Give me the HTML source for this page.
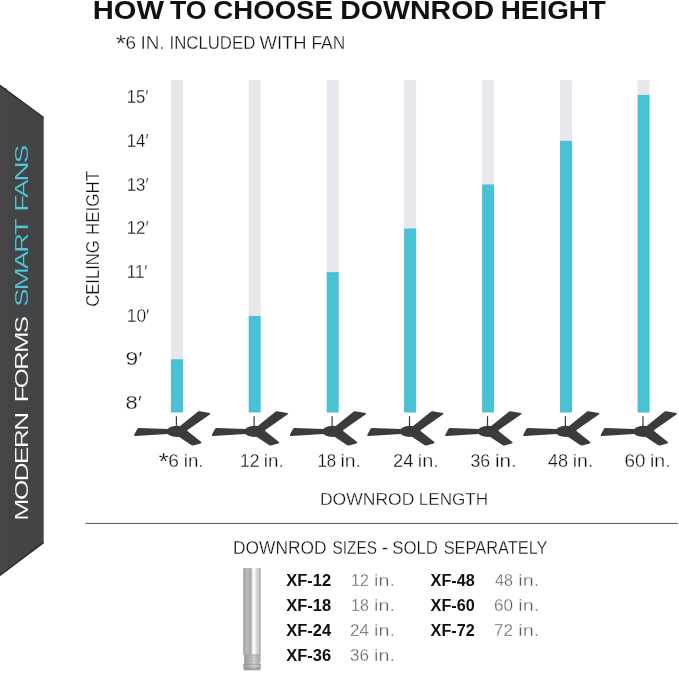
<!DOCTYPE html>
<html lang="en">
<head>
<meta charset="utf-8">
<title>How to choose downrod height</title>
<style>
html,body{margin:0;padding:0;background:#fff;}
body{width:679px;height:673px;overflow:hidden;}
svg{display:block;}
text{font-family:"Liberation Sans",sans-serif;fill:#101010;stroke:#fff;stroke-width:.28px;}
.b{font-weight:bold;fill:#111;stroke:none;}
.g{fill:#5e5e5e;}
</style>
</head>
<body>
<svg width="679" height="673" viewBox="0 0 679 673">
<defs>
<linearGradient id="rod" x1="0" y1="0" x2="1" y2="0">
<stop offset="0" stop-color="#c2c2c3"/>
<stop offset="0.04" stop-color="#adadaf"/>
<stop offset="0.12" stop-color="#ababad"/>
<stop offset="0.22" stop-color="#bcbcbe"/>
<stop offset="0.3" stop-color="#b8b8ba"/>
<stop offset="0.4" stop-color="#a6a6a8"/>
<stop offset="0.46" stop-color="#b4b4b6"/>
<stop offset="0.52" stop-color="#e6e6e8"/>
<stop offset="0.58" stop-color="#fafafb"/>
<stop offset="0.67" stop-color="#f4f4f5"/>
<stop offset="0.76" stop-color="#d8d8d9"/>
<stop offset="0.86" stop-color="#c8c8c9"/>
<stop offset="0.94" stop-color="#b2b2b3"/>
<stop offset="1" stop-color="#d2d2d3"/>
</linearGradient>
<linearGradient id="rod2" x1="0" y1="0" x2="1" y2="0">
<stop offset="0" stop-color="#9a9a9b"/>
<stop offset="0.2" stop-color="#a8a8a9"/>
<stop offset="0.45" stop-color="#bebebf"/>
<stop offset="0.6" stop-color="#d0d0d1"/>
<stop offset="0.8" stop-color="#bababb"/>
<stop offset="1" stop-color="#aaaaab"/>
</linearGradient>
</defs>
<rect width="679" height="673" fill="#fff"/>
<polygon points="0,84.7 43.7,117.1 43.7,543.3 0,575.9" fill="#434446"/>
<rect x="0" y="88" width="7" height="484" fill="#4a4b4d" opacity=".55"/>
<polygon points="0,84.7 43.7,117.1 43.7,118.6 0,86.2" fill="#2b2b2d"/>
<polygon points="0,575.9 43.7,543.3 43.7,541.8 0,574.4" fill="#2b2b2d"/>
<rect x="171" y="80.1" width="12" height="279.1" fill="#e7e7ec"/><rect x="171" y="359.2" width="12" height="53.3" fill="#49c1d4"/>
<rect x="248.7" y="80.1" width="12" height="235.9" fill="#e7e7ec"/><rect x="248.7" y="316" width="12" height="96.5" fill="#49c1d4"/>
<rect x="326.7" y="80.1" width="12" height="192.0" fill="#e7e7ec"/><rect x="326.7" y="272.1" width="12" height="140.4" fill="#49c1d4"/>
<rect x="404.1" y="80.1" width="12" height="148.3" fill="#e7e7ec"/><rect x="404.1" y="228.4" width="12" height="184.1" fill="#49c1d4"/>
<rect x="482.1" y="80.1" width="12" height="104.3" fill="#e7e7ec"/><rect x="482.1" y="184.4" width="12" height="228.1" fill="#49c1d4"/>
<rect x="560" y="80.1" width="12" height="60.7" fill="#e7e7ec"/><rect x="560" y="140.8" width="12" height="271.7" fill="#49c1d4"/>
<rect x="637.6" y="80.1" width="12" height="14.8" fill="#e7e7ec"/><rect x="637.6" y="94.9" width="12" height="317.6" fill="#49c1d4"/>
<g transform="translate(0.0,0)" fill="#3b3b3d">
<rect x="175.8" y="416.2" width="1.2" height="10.5"/>
<path d="M138.8,428 L167.6,428.9 L167.6,434 L135.4,436 Q133.4,436 134.3,434.5 L137.3,428.9 Q137.8,428 138.8,428 Z"/>
<path d="M179.5,426.4 L197.4,411.9 Q198.4,411.1 199.6,411.3 L209.6,413 Q211.2,413.4 209.8,414.5 L187.6,429.9 L187.2,431.2 L182,432 Z"/>
<path d="M187.4,431 L201,441.8 Q202.2,442.9 200.6,443.4 L193.4,445.5 Q192.2,445.8 191.2,445.1 L178.5,436.6 L180,431 Z"/>
<ellipse cx="176.9" cy="431.4" rx="10.4" ry="5.6"/>
</g>
<g transform="translate(77.7,0)" fill="#3b3b3d">
<rect x="175.8" y="416.2" width="1.2" height="10.5"/>
<path d="M138.8,428 L167.6,428.9 L167.6,434 L135.4,436 Q133.4,436 134.3,434.5 L137.3,428.9 Q137.8,428 138.8,428 Z"/>
<path d="M179.5,426.4 L197.4,411.9 Q198.4,411.1 199.6,411.3 L209.6,413 Q211.2,413.4 209.8,414.5 L187.6,429.9 L187.2,431.2 L182,432 Z"/>
<path d="M187.4,431 L201,441.8 Q202.2,442.9 200.6,443.4 L193.4,445.5 Q192.2,445.8 191.2,445.1 L178.5,436.6 L180,431 Z"/>
<ellipse cx="176.9" cy="431.4" rx="10.4" ry="5.6"/>
</g>
<g transform="translate(155.7,0)" fill="#3b3b3d">
<rect x="175.8" y="416.2" width="1.2" height="10.5"/>
<path d="M138.8,428 L167.6,428.9 L167.6,434 L135.4,436 Q133.4,436 134.3,434.5 L137.3,428.9 Q137.8,428 138.8,428 Z"/>
<path d="M179.5,426.4 L197.4,411.9 Q198.4,411.1 199.6,411.3 L209.6,413 Q211.2,413.4 209.8,414.5 L187.6,429.9 L187.2,431.2 L182,432 Z"/>
<path d="M187.4,431 L201,441.8 Q202.2,442.9 200.6,443.4 L193.4,445.5 Q192.2,445.8 191.2,445.1 L178.5,436.6 L180,431 Z"/>
<ellipse cx="176.9" cy="431.4" rx="10.4" ry="5.6"/>
</g>
<g transform="translate(233.1,0)" fill="#3b3b3d">
<rect x="175.8" y="416.2" width="1.2" height="10.5"/>
<path d="M138.8,428 L167.6,428.9 L167.6,434 L135.4,436 Q133.4,436 134.3,434.5 L137.3,428.9 Q137.8,428 138.8,428 Z"/>
<path d="M179.5,426.4 L197.4,411.9 Q198.4,411.1 199.6,411.3 L209.6,413 Q211.2,413.4 209.8,414.5 L187.6,429.9 L187.2,431.2 L182,432 Z"/>
<path d="M187.4,431 L201,441.8 Q202.2,442.9 200.6,443.4 L193.4,445.5 Q192.2,445.8 191.2,445.1 L178.5,436.6 L180,431 Z"/>
<ellipse cx="176.9" cy="431.4" rx="10.4" ry="5.6"/>
</g>
<g transform="translate(311.1,0)" fill="#3b3b3d">
<rect x="175.8" y="416.2" width="1.2" height="10.5"/>
<path d="M138.8,428 L167.6,428.9 L167.6,434 L135.4,436 Q133.4,436 134.3,434.5 L137.3,428.9 Q137.8,428 138.8,428 Z"/>
<path d="M179.5,426.4 L197.4,411.9 Q198.4,411.1 199.6,411.3 L209.6,413 Q211.2,413.4 209.8,414.5 L187.6,429.9 L187.2,431.2 L182,432 Z"/>
<path d="M187.4,431 L201,441.8 Q202.2,442.9 200.6,443.4 L193.4,445.5 Q192.2,445.8 191.2,445.1 L178.5,436.6 L180,431 Z"/>
<ellipse cx="176.9" cy="431.4" rx="10.4" ry="5.6"/>
</g>
<g transform="translate(389.0,0)" fill="#3b3b3d">
<rect x="175.8" y="416.2" width="1.2" height="10.5"/>
<path d="M138.8,428 L167.6,428.9 L167.6,434 L135.4,436 Q133.4,436 134.3,434.5 L137.3,428.9 Q137.8,428 138.8,428 Z"/>
<path d="M179.5,426.4 L197.4,411.9 Q198.4,411.1 199.6,411.3 L209.6,413 Q211.2,413.4 209.8,414.5 L187.6,429.9 L187.2,431.2 L182,432 Z"/>
<path d="M187.4,431 L201,441.8 Q202.2,442.9 200.6,443.4 L193.4,445.5 Q192.2,445.8 191.2,445.1 L178.5,436.6 L180,431 Z"/>
<ellipse cx="176.9" cy="431.4" rx="10.4" ry="5.6"/>
</g>
<g transform="translate(466.6,0)" fill="#3b3b3d">
<rect x="175.8" y="416.2" width="1.2" height="10.5"/>
<path d="M138.8,428 L167.6,428.9 L167.6,434 L135.4,436 Q133.4,436 134.3,434.5 L137.3,428.9 Q137.8,428 138.8,428 Z"/>
<path d="M179.5,426.4 L197.4,411.9 Q198.4,411.1 199.6,411.3 L209.6,413 Q211.2,413.4 209.8,414.5 L187.6,429.9 L187.2,431.2 L182,432 Z"/>
<path d="M187.4,431 L201,441.8 Q202.2,442.9 200.6,443.4 L193.4,445.5 Q192.2,445.8 191.2,445.1 L178.5,436.6 L180,431 Z"/>
<ellipse cx="176.9" cy="431.4" rx="10.4" ry="5.6"/>
</g>
<text><tspan x="92.7" y="19.2" font-size="25.4" textLength="71.27" lengthAdjust="spacingAndGlyphs" class="b">HOW</tspan> <tspan x="169.9" y="19.2" font-size="25.4" textLength="36.76" lengthAdjust="spacingAndGlyphs" class="b">TO</tspan> <tspan x="213.31" y="19.2" font-size="25.4" textLength="119.63" lengthAdjust="spacingAndGlyphs" class="b">CHOOSE</tspan> <tspan x="340.15" y="19.2" font-size="25.4" textLength="153.97" lengthAdjust="spacingAndGlyphs" class="b">DOWNROD</tspan> <tspan x="500.81" y="19.2" font-size="25.4" textLength="105.0" lengthAdjust="spacingAndGlyphs" class="b">HEIGHT</tspan></text>
<text><tspan x="115.77" y="52.0" font-size="23" textLength="10.1" lengthAdjust="spacingAndGlyphs">*</tspan><tspan x="125.62" y="48.7" font-size="17.6" textLength="10.53" lengthAdjust="spacingAndGlyphs">6</tspan> <tspan x="140.45" y="48.7" font-size="17.6" textLength="24.14" lengthAdjust="spacingAndGlyphs">IN.</tspan> <tspan x="169.49" y="48.7" font-size="17.6" textLength="85.8" lengthAdjust="spacingAndGlyphs">INCLUDED</tspan> <tspan x="259.6" y="48.7" font-size="17.6" textLength="47.0" lengthAdjust="spacingAndGlyphs">WITH</tspan> <tspan x="311.41" y="48.7" font-size="17.6" textLength="33.79" lengthAdjust="spacingAndGlyphs">FAN</tspan></text>
<text><tspan x="233.01" y="554.2" font-size="17.6" textLength="93.49" lengthAdjust="spacingAndGlyphs">DOWNROD</tspan> <tspan x="332.53" y="554.2" font-size="17.6" textLength="44.41" lengthAdjust="spacingAndGlyphs">SIZES</tspan> <tspan x="381.7" y="554.2" font-size="17.6" textLength="6.45" lengthAdjust="spacingAndGlyphs">-</tspan> <tspan x="392.25" y="554.2" font-size="17.6" textLength="45.73" lengthAdjust="spacingAndGlyphs">SOLD</tspan> <tspan x="443.67" y="554.2" font-size="17.6" textLength="103.87" lengthAdjust="spacingAndGlyphs">SEPARATELY</tspan></text>
<text><tspan x="319.95" y="504.9" font-size="16.7" textLength="94.42" lengthAdjust="spacingAndGlyphs">DOWNROD</tspan> <tspan x="418.78" y="504.9" font-size="16.7" textLength="69.35" lengthAdjust="spacingAndGlyphs">LENGTH</tspan></text>
<text><tspan x="158.46" y="470.3" font-size="23" textLength="10.23" lengthAdjust="spacingAndGlyphs">*</tspan><tspan x="168.32" y="467.2" font-size="17.8" textLength="10.63" lengthAdjust="spacingAndGlyphs">6</tspan> <tspan x="183.74" y="467.2" font-size="17.8" textLength="19.84" lengthAdjust="spacingAndGlyphs">in.</tspan></text>
<text><tspan x="240.02" y="467.2" font-size="17.8" textLength="19.45" lengthAdjust="spacingAndGlyphs">12</tspan> <tspan x="263.84" y="467.2" font-size="17.8" textLength="19.96" lengthAdjust="spacingAndGlyphs">in.</tspan></text>
<text><tspan x="317.46" y="467.2" font-size="17.8" textLength="18.68" lengthAdjust="spacingAndGlyphs">18</tspan> <tspan x="340.41" y="467.2" font-size="17.8" textLength="20.42" lengthAdjust="spacingAndGlyphs">in.</tspan></text>
<text><tspan x="393.07" y="467.2" font-size="17.8" textLength="20.44" lengthAdjust="spacingAndGlyphs">24</tspan> <tspan x="417.78" y="467.2" font-size="17.8" textLength="21.01" lengthAdjust="spacingAndGlyphs">in.</tspan></text>
<text><tspan x="470.51" y="467.2" font-size="17.8" textLength="19.67" lengthAdjust="spacingAndGlyphs">36</tspan> <tspan x="495.04" y="467.2" font-size="17.8" textLength="21.83" lengthAdjust="spacingAndGlyphs">in.</tspan></text>
<text><tspan x="548.0" y="467.2" font-size="17.8" textLength="20.09" lengthAdjust="spacingAndGlyphs">48</tspan> <tspan x="572.81" y="467.2" font-size="17.8" textLength="20.54" lengthAdjust="spacingAndGlyphs">in.</tspan></text>
<text><tspan x="624.44" y="467.2" font-size="17.8" textLength="20.88" lengthAdjust="spacingAndGlyphs">60</tspan> <tspan x="650.0" y="467.2" font-size="17.8" textLength="20.66" lengthAdjust="spacingAndGlyphs">in.</tspan></text>
<text transform="rotate(-90)"><tspan x="-306.84" y="99.2" font-size="17.7" textLength="66.62" lengthAdjust="spacingAndGlyphs">CEILING</tspan> <tspan x="-235.06" y="99.2" font-size="17.7" textLength="64.16" lengthAdjust="spacingAndGlyphs">HEIGHT</tspan></text>
<text transform="rotate(-90)"><tspan x="-520.68" y="28.1" font-size="17.9" textLength="107.14" lengthAdjust="spacingAndGlyphs" style="fill:#fff;stroke:#434446;stroke-width:.12px;letter-spacing:-1.2px">MODERN</tspan> <tspan x="-402.34" y="28.1" font-size="17.9" textLength="84.58" lengthAdjust="spacingAndGlyphs" style="fill:#fff;stroke:#434446;stroke-width:.12px;letter-spacing:-1.2px">FORMS</tspan> <tspan x="-306.84" y="28.1" font-size="17.9" textLength="86.56" lengthAdjust="spacingAndGlyphs" style="fill:#52c6d8;stroke:#434446;stroke-width:.12px;letter-spacing:-1.2px">SMART</tspan> <tspan x="-211.76" y="28.1" font-size="17.9" textLength="65.36" lengthAdjust="spacingAndGlyphs" style="fill:#52c6d8;stroke:#434446;stroke-width:.12px;letter-spacing:-1.2px">FANS</tspan></text>
<text><tspan x="286.2" y="585.6" font-size="15.6" textLength="44.9" lengthAdjust="spacingAndGlyphs" class="b">XF-12</tspan> <tspan x="351.08" y="585.6" font-size="15.6" textLength="17.79" lengthAdjust="spacingAndGlyphs" class="g">12</tspan> <tspan x="374.14" y="585.6" font-size="15.6" textLength="20.84" lengthAdjust="spacingAndGlyphs" class="g">in.</tspan></text>
<text><tspan x="286.2" y="610.7" font-size="15.6" textLength="44.9" lengthAdjust="spacingAndGlyphs" class="b">XF-18</tspan> <tspan x="351.08" y="610.7" font-size="15.6" textLength="17.79" lengthAdjust="spacingAndGlyphs" class="g">18</tspan> <tspan x="374.14" y="610.7" font-size="15.6" textLength="20.84" lengthAdjust="spacingAndGlyphs" class="g">in.</tspan></text>
<text><tspan x="286.2" y="635.8" font-size="15.6" textLength="44.9" lengthAdjust="spacingAndGlyphs" class="b">XF-24</tspan> <tspan x="349.91" y="635.8" font-size="15.6" textLength="18.99" lengthAdjust="spacingAndGlyphs" class="g">24</tspan> <tspan x="374.14" y="635.8" font-size="15.6" textLength="20.84" lengthAdjust="spacingAndGlyphs" class="g">in.</tspan></text>
<text><tspan x="286.2" y="660.9" font-size="15.6" textLength="44.9" lengthAdjust="spacingAndGlyphs" class="b">XF-36</tspan> <tspan x="349.91" y="660.9" font-size="15.6" textLength="18.99" lengthAdjust="spacingAndGlyphs" class="g">36</tspan> <tspan x="374.14" y="660.9" font-size="15.6" textLength="20.84" lengthAdjust="spacingAndGlyphs" class="g">in.</tspan></text>
<text><tspan x="430.6" y="585.6" font-size="15.6" textLength="44.09" lengthAdjust="spacingAndGlyphs" class="b">XF-48</tspan> <tspan x="495.0" y="585.6" font-size="15.6" textLength="17.87" lengthAdjust="spacingAndGlyphs" class="g">48</tspan> <tspan x="518.33" y="585.6" font-size="15.6" textLength="20.96" lengthAdjust="spacingAndGlyphs" class="g">in.</tspan></text>
<text><tspan x="430.6" y="610.7" font-size="15.6" textLength="44.09" lengthAdjust="spacingAndGlyphs" class="b">XF-60</tspan> <tspan x="493.91" y="610.7" font-size="15.6" textLength="18.99" lengthAdjust="spacingAndGlyphs" class="g">60</tspan> <tspan x="518.33" y="610.7" font-size="15.6" textLength="20.96" lengthAdjust="spacingAndGlyphs" class="g">in.</tspan></text>
<text><tspan x="430.6" y="635.8" font-size="15.6" textLength="44.09" lengthAdjust="spacingAndGlyphs" class="b">XF-72</tspan> <tspan x="493.91" y="635.8" font-size="15.6" textLength="18.99" lengthAdjust="spacingAndGlyphs" class="g">72</tspan> <tspan x="518.33" y="635.8" font-size="15.6" textLength="20.96" lengthAdjust="spacingAndGlyphs" class="g">in.</tspan></text>
<text><tspan x="126.79" y="103.0" font-size="18.3" textLength="21.71" lengthAdjust="spacingAndGlyphs">15′</tspan></text>
<text><tspan x="126.78" y="146.9" font-size="18.3" textLength="21.82" lengthAdjust="spacingAndGlyphs">14′</tspan></text>
<text><tspan x="126.78" y="190.6" font-size="18.3" textLength="21.82" lengthAdjust="spacingAndGlyphs">13′</tspan></text>
<text><tspan x="126.78" y="234.4" font-size="18.3" textLength="21.82" lengthAdjust="spacingAndGlyphs">12′</tspan></text>
<text><tspan x="126.78" y="277.9" font-size="18.3" textLength="20.7" lengthAdjust="spacingAndGlyphs">11′</tspan></text>
<text><tspan x="126.75" y="321.7" font-size="18.3" textLength="22.58" lengthAdjust="spacingAndGlyphs">10′</tspan></text>
<text><tspan x="125.55" y="365.2" font-size="18.3" textLength="17.01" lengthAdjust="spacingAndGlyphs">9′</tspan></text>
<text><tspan x="125.6" y="409.1" font-size="18.3" textLength="16.33" lengthAdjust="spacingAndGlyphs">8′</tspan></text>
<rect x="85.4" y="522.9" width="592.4" height="1.1" fill="#666"/>
<g>
<rect x="243" y="568.1" width="18" height="86.8" fill="url(#rod)"/>
<path d="M244.2,654.7 L260.6,654.7 L260.6,661 Q260.4,663.4 259.2,664.2 L244.2,664.2 Z" fill="url(#rod2)"/>
<rect x="244.2" y="654.5" width="16.4" height="0.9" fill="#9a9a9b" opacity=".8"/>
<rect x="244.2" y="657.6" width="15" height="0.6" fill="#a0a0a1" opacity=".6"/>
<rect x="244.2" y="660.6" width="15" height="0.6" fill="#a0a0a1" opacity=".6"/>
<path d="M243.4,664 L260.9,664 L260.9,668 Q260.6,670.3 257.6,670.3 L246.4,670.3 Q243.4,670.3 243.4,668 Z" fill="url(#rod2)"/>
<path d="M243.4,667.6 L260.9,667.6 L260.9,668 Q260.6,670.3 257.6,670.3 L246.4,670.3 Q243.4,670.3 243.4,668 Z" fill="#8c8c8d" opacity=".55"/>
<rect x="243.4" y="663.8" width="17.5" height="0.8" fill="#8c8c8d" opacity=".7"/>
</g>
</svg>
</body>
</html>
